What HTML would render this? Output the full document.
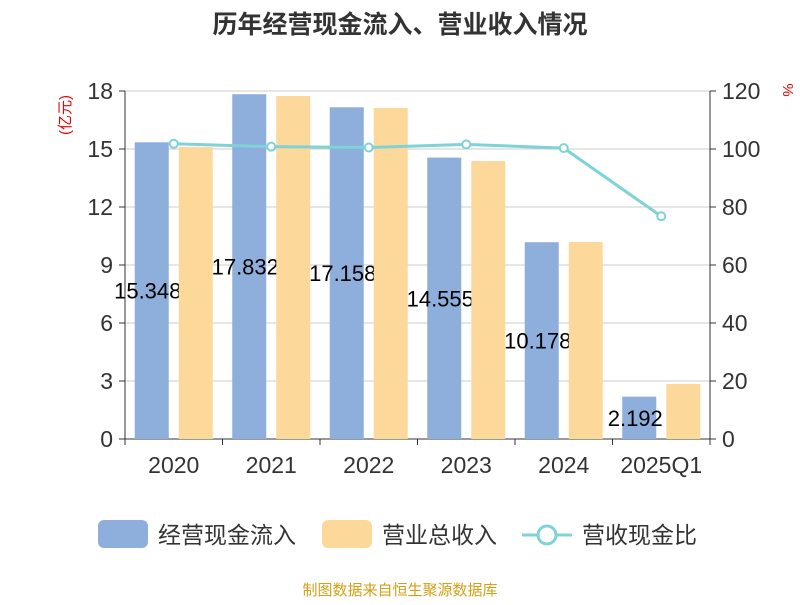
<!DOCTYPE html>
<html><head><meta charset="utf-8"><style>
body{margin:0;background:#fff;font-family:"Liberation Sans","Noto Sans CJK SC",sans-serif}
</style></head><body>
<svg id="c" width="800" height="600" xmlns="http://www.w3.org/2000/svg" style="font-family:'Liberation Sans','Noto Sans CJK SC',sans-serif">
<text x="400" y="33" text-anchor="middle" font-size="25" font-weight="bold" fill="#333">历年经营现金流入、营业收入情况</text>
<text transform="translate(70,115) rotate(-90)" text-anchor="middle" font-size="15" fill="#e00">(亿元)</text>
<text transform="translate(783,90) rotate(90)" text-anchor="middle" font-size="15" fill="#e00">%</text>
<g id="grid"></g><g id="bars1"></g><g id="labels"></g><g id="bars2"></g><g id="axes"></g><g id="line"></g>
<g>
<rect x="98" y="520" width="50" height="28" rx="6" fill="#8eaedb"/>
<text x="158" y="543" font-size="23" fill="#333">经营现金流入</text>
<rect x="322" y="520" width="50" height="28" rx="6" fill="#fdd89b"/>
<text x="382" y="543" font-size="23" fill="#333">营业总收入</text>
<line x1="522" y1="535" x2="572" y2="535" stroke="#7fd3d6" stroke-width="3"/>
<circle cx="547" cy="535" r="9" fill="#fff" stroke="#7fd3d6" stroke-width="3"/>
<text x="582" y="543" font-size="23" fill="#333">营收现金比</text>
</g>
<text x="400" y="595" text-anchor="middle" font-size="15" fill="#d4a017">制图数据来自恒生聚源数据库</text>
</svg>
<script>
const categories=["2020","2021","2022","2023","2024","2025Q1"];
const inflow=[15.348,17.832,17.158,14.555,10.178,2.192];
const revenue=[15.1,17.74,17.12,14.38,10.19,2.85];
const ratio=[101.8,100.8,100.5,101.6,100.3,76.8];
const leftTicks=[0,3,6,9,12,15,18];
const rightTicks=[0,20,40,60,80,100,120];
const NS="http://www.w3.org/2000/svg";
const X0=125,X1=710,Y0=439,Y1=91;
const band=(X1-X0)/categories.length;
const yL=v=>Y0-(v/18)*(Y0-Y1);
const yR=v=>Y0-(v/120)*(Y0-Y1);
const xc=i=>X0+band*(i+0.5);
function mk(t,a,p){const e=document.createElementNS(NS,t);for(const k in a)e.setAttribute(k,a[k]);p.appendChild(e);return e;}
const grid=document.getElementById('grid'),axes=document.getElementById('axes');
leftTicks.forEach((v,i)=>{
 const g=mk('line',{x1:X0,x2:X1,y1:yL(v),y2:yL(v),stroke:v===0?'#333':'#ccc','stroke-width':1},grid);
 
 
 const t=mk('text',{x:X0-12,y:yL(v)+8,'text-anchor':'end','font-size':23,fill:'#333'},axes);t.textContent=v;
 
 
 mk('line',{x1:X0-6,x2:X0,y1:yL(v),y2:yL(v),stroke:'#333'},axes);
});
rightTicks.forEach(v=>{
 const t=mk('text',{x:X1+12,y:yR(v)+8,'font-size':23,fill:'#333'},axes);t.textContent=v;
 
 
 mk('line',{x1:X1,x2:X1+6,y1:yR(v),y2:yR(v),stroke:'#333'},axes);
});
mk('line',{x1:X0,x2:X0,y1:Y1,y2:Y0,stroke:'#333'},axes);
mk('line',{x1:X1,x2:X1,y1:Y1,y2:Y0,stroke:'#333'},axes);
for(let i=0;i<=categories.length;i++)mk('line',{x1:X0+band*i,x2:X0+band*i,y1:Y0,y2:Y0+6,stroke:'#333'},axes);
const b1=document.getElementById('bars1'),b2=document.getElementById('bars2'),lb=document.getElementById('labels');
categories.forEach((c,i)=>{
 const t=mk('text',{x:xc(i),y:Y0+34,'text-anchor':'middle','font-size':23,fill:'#333'},axes);t.textContent=c;
 
 
 const r=mk('rect',{x:xc(i)-39,y:yL(inflow[i]),width:34,height:Y0-yL(inflow[i]),fill:'#8eaedb'},b1);
 
 
 const r2=mk('rect',{x:xc(i)+5,y:yL(revenue[i]),width:34,height:Y0-yL(revenue[i]),fill:'#fdd89b'},b2);
 
 
 const l=mk('text',{x:xc(i)-26,y:(yL(inflow[i])+Y0)/2+8,'text-anchor':'middle','font-size':22,fill:'#000'},lb);
 l.textContent=inflow[i].toFixed(3);
 
 
});
const ln=document.getElementById('line');
const p=mk('polyline',{points:ratio.map((v,i)=>xc(i)+','+yR(v)).join(' '),fill:'none',stroke:'#7fd3d6','stroke-width':3},ln);


ratio.forEach((v,i)=>{
 const c=mk('circle',{cx:xc(i),cy:yR(v),r:4,fill:'#fff',stroke:'#7fd3d6','stroke-width':2},ln);
 
 
});
</script>
</body></html>
